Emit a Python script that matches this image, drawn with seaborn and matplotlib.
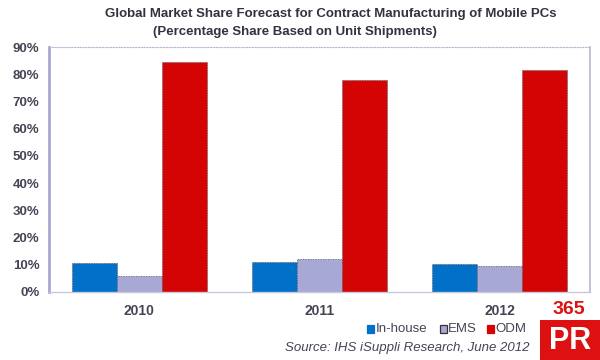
import pandas as pd
import matplotlib
matplotlib.use("Agg")
import matplotlib.pyplot as plt
import seaborn as sns
from matplotlib.patches import Rectangle

years = ["2010", "2011", "2012"]
in_house = [10.7, 11.0, 10.3]
ems = [5.9, 12.1, 9.6]
odm = [84.6, 78.0, 81.6]
segments = ["In-house", "EMS", "ODM"]
colors = ["#0070c8", "#a8a8d4", "#d40404"]

df = pd.DataFrame({
    "Year": years * 3,
    "Segment": [s for s in segments for _ in years],
    "Share": in_house + ems + odm,
})

sns.set_style("white")
plt.rcParams["font.family"] = ["Liberation Sans", "DejaVu Sans"]

fig = plt.figure(figsize=(6, 3.6), dpi=100)
ax = fig.add_axes([0.082, 0.189, 0.901, 0.68])
sns.barplot(data=df, x="Year", y="Share", hue="Segment", palette=colors,
            width=0.75, saturation=1, ax=ax, legend=False)
for p in ax.patches:
    p.set_edgecolor("#555566")
    p.set_linewidth(0.6)
    p.set_linestyle((0, (1, 1)))

ax.set_xlim(-0.5, 2.5)
ax.set_ylim(0, 90)
ax.set_yticks(range(0, 91, 10))
ax.set_yticklabels([f"{v}%" for v in range(0, 91, 10)], fontsize=9.5,
                   fontweight="bold", color="#444455")
ax.set_xticklabels(years, fontsize=10, fontweight="bold", color="#444455")
ax.tick_params(axis="y", length=0, pad=7)
ax.tick_params(axis="x", length=0, pad=9)
ax.set_xlabel("")
ax.set_ylabel("")
ax.spines["left"].set_color("#a8a8d0")
ax.spines["left"].set_linewidth(2)
ax.spines["bottom"].set_color("#c8c8dc")
ax.spines["bottom"].set_linewidth(1)
ax.spines["right"].set_color("#b8b8d0")
ax.spines["right"].set_linewidth(1.2)
ax.spines["top"].set_color("#b8b8d0")
ax.spines["top"].set_linewidth(0.8)
ax.spines["top"].set_linestyle((0, (1, 1.5)))

fig.text(0.552, 0.96, "Global Market Share Forecast for Contract Manufacturing of Mobile PCs",
         ha="center", va="center", fontsize=9.5, fontweight="bold", color="#333340")
fig.text(0.492, 0.91, "(Percentage Share Based on Unit Shipments)",
         ha="center", va="center", fontsize=9.5, fontweight="bold", color="#333340")

# legend
lx = [0.612, 0.733, 0.812]
for x, c, s in zip(lx, colors, segments):
    fig.patches.append(Rectangle((x, 0.075), 0.012, 0.021, transform=fig.transFigure,
                                 facecolor=c, edgecolor="#333333" if s == "EMS" else c,
                                 linewidth=0.9))
    fig.text(x + 0.014, 0.086, s, ha="left", va="center", fontsize=9.5, color="#444455")

fig.text(0.883, 0.033, "Source: IHS iSuppli Research, June 2012", ha="right", va="center",
         fontsize=9.5, fontstyle="italic", color="#444455")

# 365PR mark
fig.text(0.948, 0.139, "365", ha="center", va="center", fontsize=14, fontweight="bold",
         color="#dd1111")
fig.patches.append(Rectangle((0.9, 0.0), 0.1, 0.111, transform=fig.transFigure,
                             facecolor="#dd1111", edgecolor="none"))
fig.text(0.95, 0.052, "PR", ha="center", va="center", fontsize=22, fontweight="bold",
         color="white")

fig.savefig("out.png", dpi=100)
